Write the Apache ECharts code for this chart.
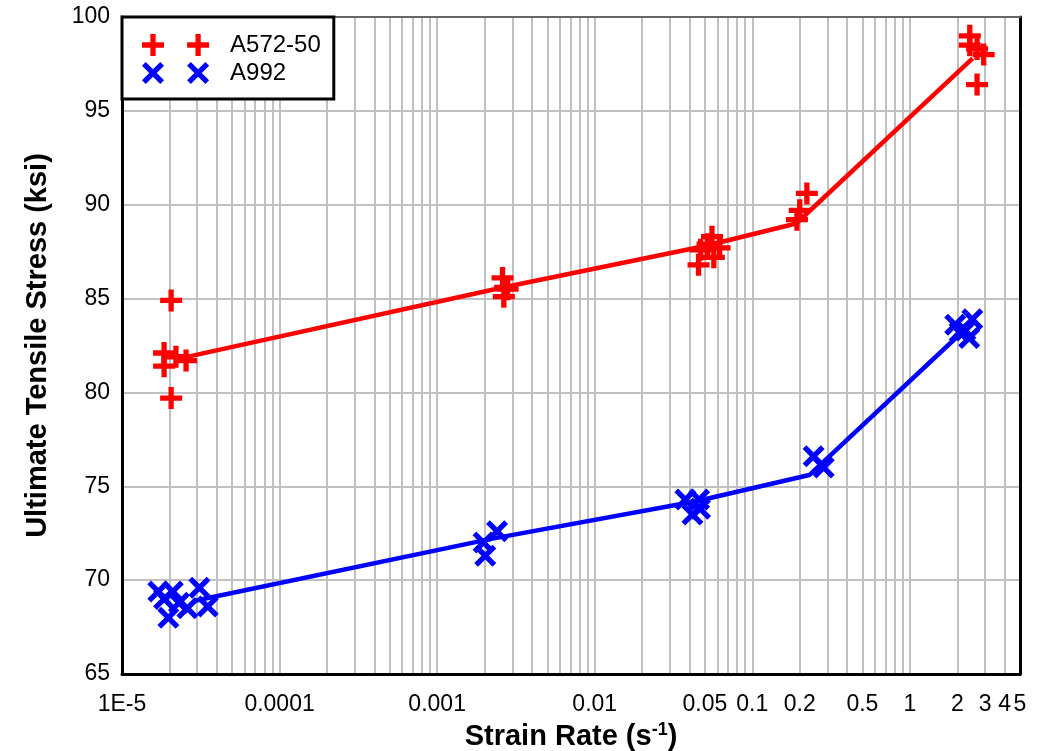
<!DOCTYPE html>
<html><head><meta charset="utf-8">
<script src="https://cdn.jsdelivr.net/npm/echarts@6/dist/echarts.min.js"></script>
<style>html,body{margin:0;padding:0;background:#fff}#c{width:1051px;height:751px}</style>
</head><body><div id="c"></div><script>
// ---- data ----
const seriesNames = ['A572-50', 'A992'];
const xLabelValues = [1e-5, 1e-4, 1e-3, 0.01, 0.05, 0.1, 0.2, 0.5, 1, 2, 3, 4, 5];
const xLabelTexts = ['1E-5', '0.0001', '0.001', '0.01', '0.05', '0.1', '0.2', '0.5', '1', '2', '3', '4', '5'];
const xDecades = [1e-5, 1e-4, 1e-3, 1e-2, 1e-1, 1];
const xMultipliers = [1, 2, 3, 4, 5, 6, 7, 8, 9];
const yTicks = [65, 70, 75, 80, 85, 90, 95, 100];

const redPoints = [
  [1.85e-5, 82.1], [1.85e-5, 81.4], [2.05e-5, 84.9], [2.05e-5, 79.7], [2.2e-5, 81.9], [2.55e-5, 81.7],
  [2.6e-3, 86.1], [2.7e-3, 85.6], [2.65e-3, 85.1], [2.8e-3, 85.5],
  [0.0456, 86.8], [0.047, 87.6], [0.0555, 88.3], [0.057, 87.2], [0.062, 87.7], [0.052, 87.9],
  [0.192, 89.2], [0.2, 89.7], [0.222, 90.6],
  [2.4, 99.0], [2.4, 98.5], [2.67, 98.3], [2.94, 98.0], [2.67, 96.4]
];
const redLine = [[2.3e-5, 81.8], [2.65e-3, 85.6], [0.05, 87.8], [0.19, 89.0], [2.5, 97.8]];

const bluePoints = [
  [1.7e-5, 69.4], [1.85e-5, 69.0], [2.1e-5, 69.4], [1.97e-5, 68.0], [2.3e-5, 68.8], [2.6e-5, 68.5], [3.1e-5, 69.6], [3.5e-5, 68.6],
  [1.97e-3, 72.0], [2.02e-3, 71.3], [2.4e-3, 72.6],
  [0.0376, 74.3], [0.046, 74.3], [0.0417, 73.5], [0.0466, 73.8],
  [0.245, 76.6], [0.284, 76.0],
  [1.94, 83.6], [2.07, 83.2], [2.25, 83.3], [2.38, 82.9], [2.49, 83.9]
];
const blueLine = [[2.9e-5, 68.9], [2.2e-3, 72.2], [0.044, 74.2], [0.23, 75.6], [2.2, 83.3]];

// ---- build ----
const X_MIN = 1e-5, X_MAX = 5;
const gridValues = [];
xDecades.forEach(d => xMultipliers.forEach(m => {
  const v = Number((m * d).toPrecision(6));
  if (v <= X_MAX) gridValues.push(v);
}));

const PLUS = 'path://M3.8,0H6.2V3.8H10V6.2H6.2V10H3.8V6.2H0V3.8H3.8Z';
const CROSS = 'path://M0,1.7L1.7,0L5,3.3L8.3,0L10,1.7L6.7,5L10,8.3L8.3,10L5,6.7L1.7,10L0,8.3L3.3,5Z';
const PLUS2 = 'path://M3.8,0H6.2V3.8H10V6.2H6.2V10H3.8V6.2H0V3.8H3.8Z M24.3,0H26.7V3.8H30.5V6.2H26.7V10H24.3V6.2H20.5V3.8H24.3Z';
const CROSS2 = 'path://M0,1.7L1.7,0L5,3.3L8.3,0L10,1.7L6.7,5L10,8.3L8.3,10L5,6.7L1.7,10L0,8.3L3.3,5Z M20.5,1.7L22.2,0L25.5,3.3L28.8,0L30.5,1.7L27.2,5L30.5,8.3L28.8,10L25.5,6.7L22.2,10L20.5,8.3L23.8,5Z';

const FONT = 'Arial, "Liberation Sans", sans-serif';
const RED = '#ff0000', BLUE = '#0000ff';

function fmtX(v) {
  for (let i = 0; i < xLabelValues.length; i++) {
    if (Math.abs(Math.log10(v) - Math.log10(xLabelValues[i])) < 1e-6) return xLabelTexts[i];
  }
  return '';
}

const chart = echarts.init(document.getElementById('c'), null, {renderer: 'canvas'});
chart.setOption({
  animation: false,
  backgroundColor: '#fff',
  grid: {left: 122, right: 31, top: 17, bottom: 77, containLabel: false, outerBoundsMode: 'none'},
  legend: {
    orient: 'vertical', left: 122, top: 17,
    padding: [16, 13, 14, 20], itemGap: 4,
    itemWidth: 99, itemHeight: 22,
    backgroundColor: '#fff', borderColor: '#000', borderWidth: 3,
    textStyle: {fontFamily: FONT, fontSize: 24, color: '#000'},
    data: [{name: seriesNames[0], icon: PLUS2}, {name: seriesNames[1], icon: CROSS2}]
  },
  xAxis: [{
    type: 'log', logBase: 10, min: X_MIN, max: X_MAX,
    name: 'Strain Rate (s{sup|-1})', nameLocation: 'middle', nameGap: 41,
    nameTextStyle: {fontFamily: FONT, fontSize: 29, fontWeight: 'bold', color: '#000',
      rich: {sup: {fontFamily: FONT, fontSize: 18, fontWeight: 'bold', color: '#000', verticalAlign: 'top', padding: [0, 0, 14, 0]}}},
    axisLine: {show: true, onZero: false, lineStyle: {color: '#000', width: 3}},
    axisTick: {show: false, customValues: gridValues},
    splitLine: {show: true, lineStyle: {color: '#c0c0c0', width: 2}},
    axisLabel: {customValues: xLabelValues, formatter: fmtX, fontFamily: FONT, fontSize: 23, color: '#000', margin: 19, hideOverlap: false}
  }, {
    type: 'log', logBase: 10, min: X_MIN, max: X_MAX, position: 'top',
    axisLine: {show: true, onZero: false, lineStyle: {color: '#666', width: 2}},
    axisTick: {show: false}, axisLabel: {show: false}, splitLine: {show: false}
  }],
  yAxis: [{
    type: 'value', min: 65, max: 100, interval: 5,
    name: 'Ultimate Tensile Stress (ksi)', nameLocation: 'middle', nameGap: 70, nameRotate: 90,
    nameTextStyle: {fontFamily: FONT, fontSize: 29, fontWeight: 'bold', color: '#000'},
    axisLine: {show: true, onZero: false, lineStyle: {color: '#000', width: 3}},
    axisTick: {show: false},
    splitLine: {show: true, lineStyle: {color: '#c0c0c0', width: 2}},
    axisLabel: {fontFamily: FONT, fontSize: 23, color: '#000', margin: 12,
      formatter: v => yTicks.includes(v) ? String(v) : ''}
  }, {
    type: 'value', min: 65, max: 100, interval: 5, position: 'right',
    axisLine: {show: true, onZero: false, lineStyle: {color: '#000', width: 3}},
    axisTick: {show: false}, axisLabel: {show: false}, splitLine: {show: false}
  }],
  series: [
    {name: seriesNames[0], type: 'scatter', data: redPoints, symbol: PLUS, symbolSize: 22,
      itemStyle: {color: RED, opacity: 1}, z: 3},
    {name: seriesNames[1], type: 'scatter', data: bluePoints, symbol: CROSS, symbolSize: 22,
      itemStyle: {color: BLUE, opacity: 1}, z: 3},
    {name: seriesNames[0] + ' fit', type: 'line', data: redLine, showSymbol: false, symbol: 'none',
      lineStyle: {color: RED, width: 4.5}, itemStyle: {color: RED}, z: 2},
    {name: seriesNames[1] + ' fit', type: 'line', data: blueLine, showSymbol: false, symbol: 'none',
      lineStyle: {color: BLUE, width: 4.5}, itemStyle: {color: BLUE}, z: 2}
  ]
});
</script></body></html>
